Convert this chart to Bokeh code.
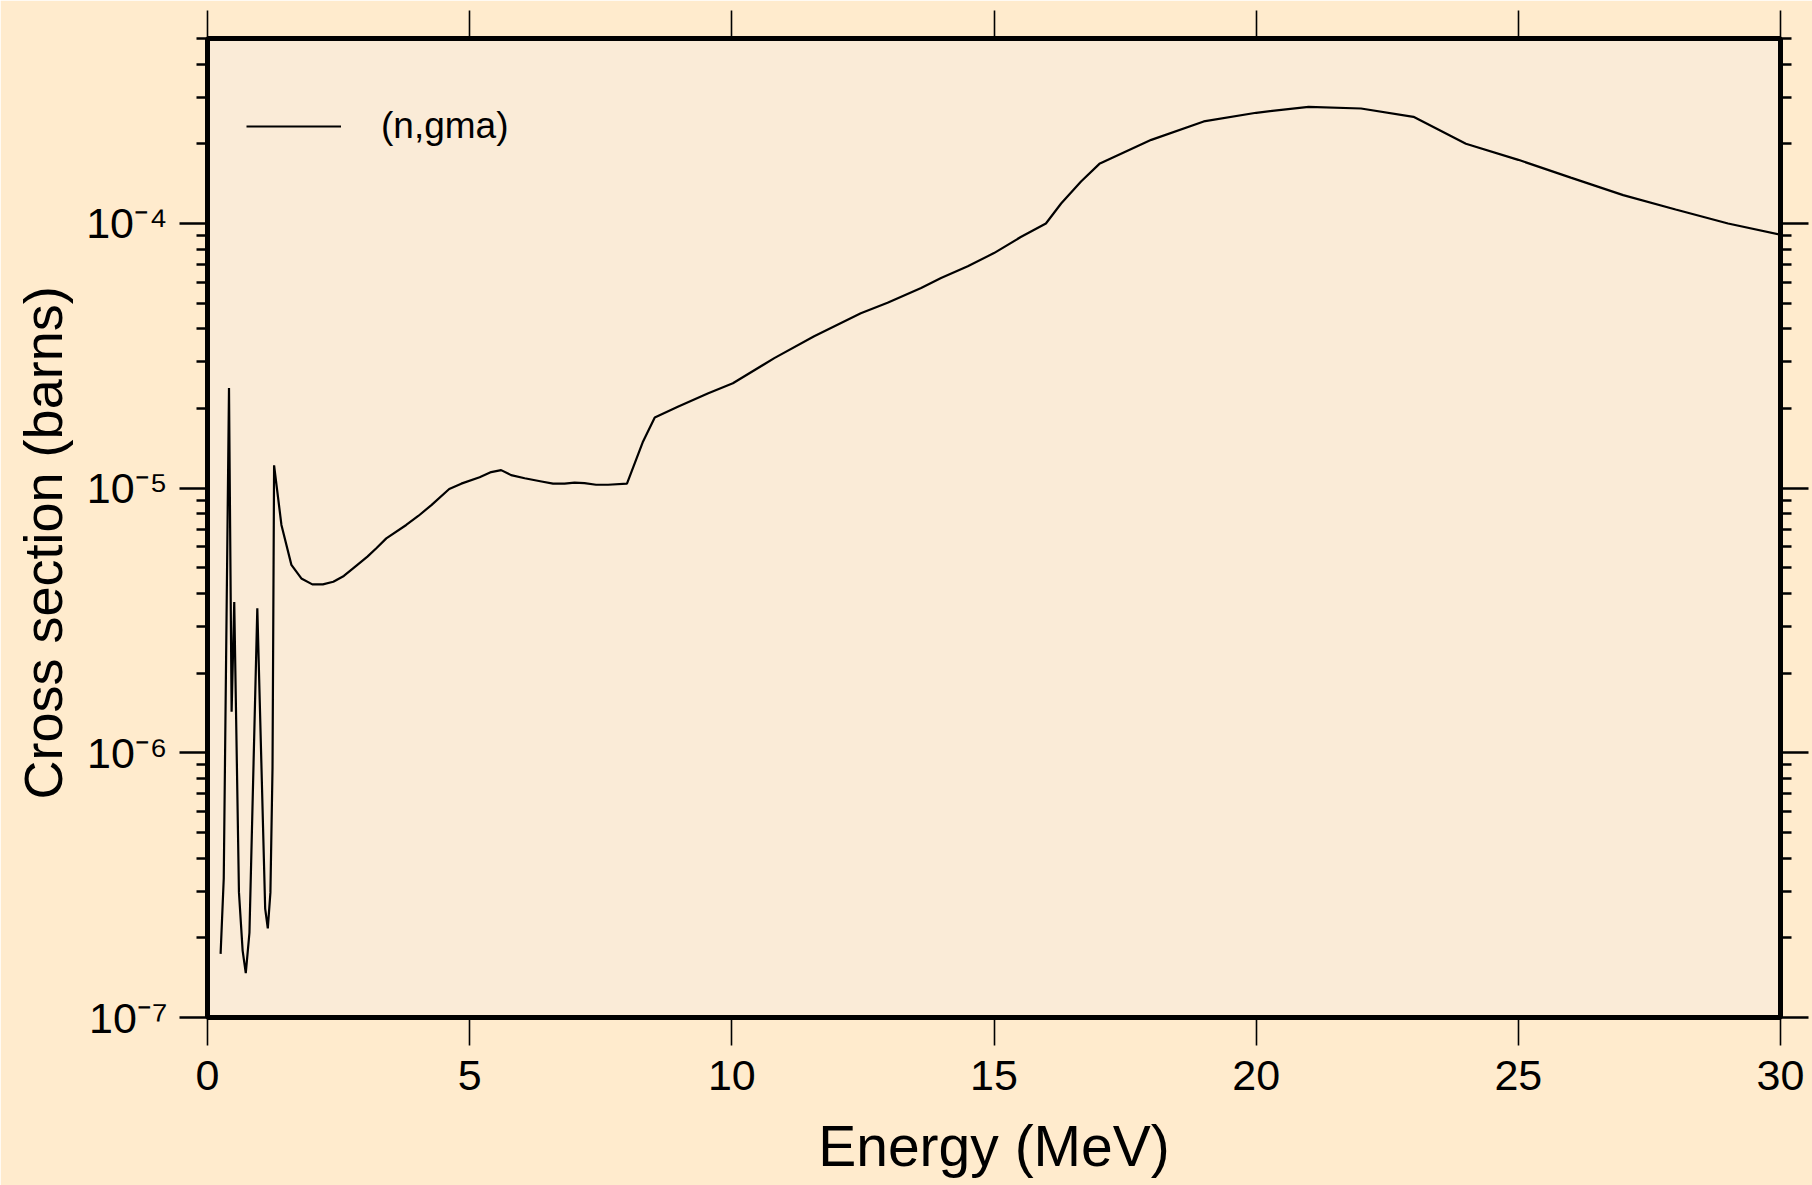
from bokeh.plotting import figure
from bokeh.models import (LinearAxis, LogAxis, FixedTicker, Legend, LegendItem, Title)
from bokeh.embed import file_html
from bokeh.resources import INLINE

# ---------------- data ----------------
energy = [0.25, 0.31, 0.41, 0.46, 0.51, 0.60, 0.67, 0.73, 0.80, 0.95,
          1.10, 1.15, 1.20, 1.24, 1.27, 1.41, 1.60, 1.79, 2.00, 2.20,
          2.40, 2.60, 2.80, 3.05, 3.22, 3.41, 3.79, 4.02, 4.27, 4.61,
          4.84, 5.19, 5.41, 5.60, 5.79, 6.05, 6.37, 6.59, 6.81, 7.00,
          7.19, 7.41, 7.64, 8.00, 8.30, 8.53, 8.97, 9.54, 10.02, 10.81,
          11.57, 12.46, 12.97, 13.61, 13.99, 14.50, 15.00, 15.51, 15.99, 16.28,
          16.66, 17.01, 18.0, 19.0, 20.0, 21.0, 22.0, 23.0, 24.0, 25.0,
          26.0, 27.0, 28.0, 29.0, 30.0]
xs_ngma = [1.74e-7, 3.36e-7, 2.39e-5, 1.43e-6, 3.71e-6, 2.97e-7, 1.79e-7, 1.47e-7, 2.09e-7, 3.52e-6,
           2.58e-7, 2.17e-7, 2.97e-7, 8.77e-7, 1.22e-5, 7.26e-6, 5.13e-6, 4.56e-6, 4.33e-6, 4.33e-6,
           4.43e-6, 4.66e-6, 5.02e-6, 5.51e-6, 5.93e-6, 6.46e-6, 7.26e-6, 7.85e-6, 8.63e-6, 9.93e-6,
           1.04e-5, 1.10e-5, 1.15e-5, 1.17e-5, 1.12e-5, 1.09e-5, 1.06e-5, 1.04e-5, 1.04e-5, 1.05e-5,
           1.045e-5, 1.03e-5, 1.03e-5, 1.04e-5, 1.49e-5, 1.85e-5, 2.03e-5, 2.28e-5, 2.49e-5, 3.10e-5,
           3.75e-5, 4.58e-5, 5.02e-5, 5.70e-5, 6.22e-5, 6.89e-5, 7.73e-5, 8.89e-5, 1.00e-4, 1.19e-4,
           1.44e-4, 1.68e-4, 2.07e-4, 2.43e-4, 2.62e-4, 2.76e-4, 2.72e-4, 2.53e-4, 2.00e-4, 1.74e-4,
           1.49e-4, 1.28e-4, 1.13e-4, 1.00e-4, 9.07e-5]

series_name = "(n,gma)"
x_title = "Energy (MeV)"
y_title = "Cross section (barns)"
x_ticks = [0, 5, 10, 15, 20, 25, 30]
y_decades = [1e-7, 1e-6, 1e-5, 1e-4]
y_tick_labels = ["10\u207b\u2077", "10\u207b\u2076", "10\u207b\u2075", "10\u207b\u2074"]
y_minor = [m * d for d in [1e-7, 1e-6, 1e-5, 1e-4] for m in range(2, 10) if m * d <= 5.0001e-4]

# ---------------- styling ----------------
FONT = "Liberation Sans"
OUTER = "#FFEBCD"
INNER = "#FAEBD7"

W, H = 1812, 1185
ML, MR, MT, MB = 206, 32, 38, 168
FW = W - ML - MR
FH = H - MT - MB

p = figure(width=W, height=H, x_range=(0, 30), y_range=(1e-7, 5e-4),
           y_axis_type="log", output_backend="svg", toolbar_location=None,
           x_axis_location=None, y_axis_location=None,
           min_border_left=ML, min_border_right=MR,
           min_border_top=MT, min_border_bottom=MB)
p.border_fill_color = OUTER
p.background_fill_color = INNER
p.outline_line_color = "black"
p.outline_line_width = 5
p.xgrid.visible = False
p.ygrid.visible = False


def blank(ticks):
    return {t: "" for t in ticks}


def make_x_axis(show_labels):
    ax = LinearAxis(ticker=FixedTicker(ticks=x_ticks))
    ax.axis_line_color = None
    ax.major_tick_in = 0
    ax.major_tick_out = 28
    ax.major_tick_line_width = 1.6
    ax.minor_tick_line_color = None
    ax.major_label_text_font = FONT
    ax.major_label_text_font_size = "43px"
    ax.major_label_text_color = "black"
    ax.major_label_text_line_height = 0.9
    if show_labels:
        ax.major_label_standoff = 15
        ax.axis_label = x_title
        ax.axis_label_text_font = FONT
        ax.axis_label_text_font_size = "57px"
        ax.axis_label_text_font_style = "normal"
        ax.axis_label_text_color = "black"
        ax.axis_label_text_line_height = 0.9
        ax.axis_label_standoff = 21
    else:
        ax.major_label_overrides = blank(x_ticks)
        ax.major_label_standoff = 0
    return ax


p.add_layout(make_x_axis(True), "below")
p.add_layout(make_x_axis(False), "above")


def make_y_axis(show_labels):
    ax = LogAxis(ticker=FixedTicker(ticks=y_decades, minor_ticks=y_minor))
    ax.axis_line_color = None
    ax.major_tick_in = 0
    ax.major_tick_out = 28
    ax.minor_tick_in = 0
    ax.minor_tick_out = 11
    ax.major_tick_line_width = 2.5
    ax.minor_tick_line_width = 2.5
    ax.major_label_text_font = FONT
    ax.major_label_text_font_size = "43px"
    ax.major_label_text_color = "black"
    if show_labels:
        ax.major_label_overrides = dict(zip(y_decades, y_tick_labels))
        ax.major_label_standoff = 12
    else:
        ax.major_label_overrides = blank(y_decades)
        ax.major_label_standoff = 0
    return ax


p.add_layout(make_y_axis(True), "left")
p.add_layout(make_y_axis(False), "right")

# y title (placed along the left side)
p.add_layout(Title(text=y_title, align="left", offset=218, standoff=21,
                   text_font=FONT, text_font_size="54px", text_font_style="normal",
                   text_color="black"), "left")

# curve
r = p.line(energy, xs_ngma, line_color="black", line_width=2.2)

# legend
legend = Legend(items=[LegendItem(label=series_name, renderers=[r])],
                location=(39, FH - 109), margin=0, padding=0, spacing=0,
                glyph_width=95, glyph_height=40, label_height=40,
                label_standoff=40, border_line_color=None,
                background_fill_alpha=0.0,
                label_text_font=FONT, label_text_font_size="37px",
                label_text_color="black")
p.add_layout(legend)

html = file_html(p, INLINE)
html = html.replace("<body>", '<body style="background-color:%s;">' % OUTER, 1)
open("out.html", "w").write(html)
